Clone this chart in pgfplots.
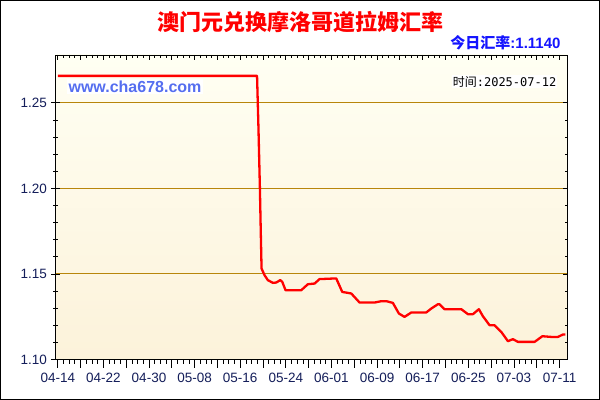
\documentclass[border=0pt]{standalone}
\usepackage{fontspec}
\setmainfont{Liberation Sans}
\newfontfamily\cjk{Noto Sans CJK SC}
\newfontfamily\mono{DejaVu Sans Mono}
\usepackage{pgfplots}
\pgfplotsset{compat=1.18}
\definecolor{linered}{RGB}{255,0,0}
\definecolor{gridgold}{RGB}{184,134,11}
\definecolor{bgtop}{RGB}{255,255,243}
\definecolor{bgbot}{RGB}{252,242,218}
\definecolor{ticknavy}{RGB}{20,30,90}
\definecolor{wwwblue}{RGB}{85,110,240}
\definecolor{rateblue}{RGB}{20,20,255}

\begin{document}
\begin{tikzpicture}
\fill[white] (0,0) rectangle (600bp,400bp);
\draw[black,line width=1bp] (0.5bp,0.5bp) rectangle (599.5bp,399.5bp);
\useasboundingbox (0,0) rectangle (600bp,400bp);

\begin{axis}[
    at={(55.5bp,40.5bp)}, anchor=south west,
    scale only axis,
    width=512bp, height=304.5bp,
    xmin=-0.4, xmax=89.4,
    ymin=1.10, ymax=1.278,
    axis background/.style={top color=bgtop, bottom color=bgbot},
    axis line style={black, line width=0.8bp},
    xtick={0,4,...,88},
    xticklabels={04-14,,04-22,,04-30,,05-08,,05-16,,05-24,,06-01,,06-09,,06-17,,06-25,,07-03,,07-11},
    minor x tick num=3,
    ytick={1.10,1.15,1.20,1.25},
    minor y tick num=4,
    xtick pos=bottom, ytick pos=left,
    xtick align=outside, ytick align=center,
    major tick length=8bp, minor tick length=4bp,
    every tick/.style={black, line width=0.8bp},
    ymajorgrids,
    major grid style={gridgold, line width=1bp},
    yticklabel style={/pgf/number format/fixed, /pgf/number format/precision=2, /pgf/number format/fixed zerofill},
    /pgf/number format/assume math mode=true,
    ticklabel style={font=\fontsize{13.5bp}{15bp}\selectfont, text=ticknavy},
    xticklabel style={yshift=-2bp},
    yticklabel style={xshift=-1bp},
]
\addplot[linered, line width=2.3bp, line join=round] coordinates {
(0,1.2658) (34.95,1.2658) (35.2,1.235) (35.45,1.200) (35.6,1.175) (35.74,1.1532)
(36.26,1.1493) (36.84,1.1464) (37.72,1.1448) (38.32,1.1450) (39.02,1.1464) (39.37,1.1454)
(39.95,1.1405) (42.70,1.1405) (43.86,1.1440) (45.04,1.1444) (45.91,1.1470) (48.84,1.1474)
(49.89,1.1395) (51.47,1.1386) (52.93,1.1333) (55.56,1.1333) (56.74,1.1341) (57.61,1.1341)
(58.77,1.1331) (59.82,1.1269) (60.82,1.1249) (62.00,1.1275) (64.63,1.1275) (65.51,1.1298)
(66.67,1.1323) (66.96,1.1323) (67.84,1.1294) (70.77,1.1294) (71.93,1.1265) (72.81,1.1265)
(73.86,1.1294) (74.56,1.1253) (75.74,1.1200) (76.61,1.1200) (77.79,1.1161) (78.95,1.1107)
(79.82,1.1119) (80.70,1.1103) (83.63,1.1103) (84.98,1.1136) (86.56,1.1132) (87.72,1.1132)
(88.60,1.1146) (89.02,1.1146)
};
\end{axis}

% top and right ticks point inward
\begin{axis}[
    at={(55.5bp,40.5bp)}, anchor=south west,
    scale only axis,
    width=512bp, height=304.5bp,
    xmin=-0.4, xmax=89.4,
    ymin=1.10, ymax=1.278,
    axis line style={black, line width=0.8bp},
    xtick={0,4,...,88}, minor x tick num=3,
    ytick={1.10,1.15,1.20,1.25}, minor y tick num=4,
    xtick pos=top, ytick pos=right,
    tick align=inside,
    major tick length=5bp, minor tick length=3bp,
    every tick/.style={black, line width=0.8bp},
    xticklabels={}, yticklabels={},
]
\end{axis}

\node[fill=white, inner sep=1.5bp, text=wwwblue, font=\fontsize{16bp}{18bp}\selectfont\bfseries] at (135bp,313.7bp) {www.cha678.com};
\node[fill=white, inner sep=1bp, anchor=east, font=\fontsize{12bp}{14bp}\selectfont] at (557.5bp,318.5bp) {{\cjk 时间}{\mono :2025-07-12}};
\node[anchor=east, text=rateblue, font=\fontsize{15bp}{17bp}\selectfont\bfseries] at (564bp,357.3bp) {{\cjk 今日汇率}:1.1140};
\node[text=linered, font=\fontsize{22bp}{24bp}\selectfont\bfseries] at (300bp,378bp) {\cjk\bfseries 澳门元兑换摩洛哥道拉姆汇率};
\end{tikzpicture}
\end{document}
